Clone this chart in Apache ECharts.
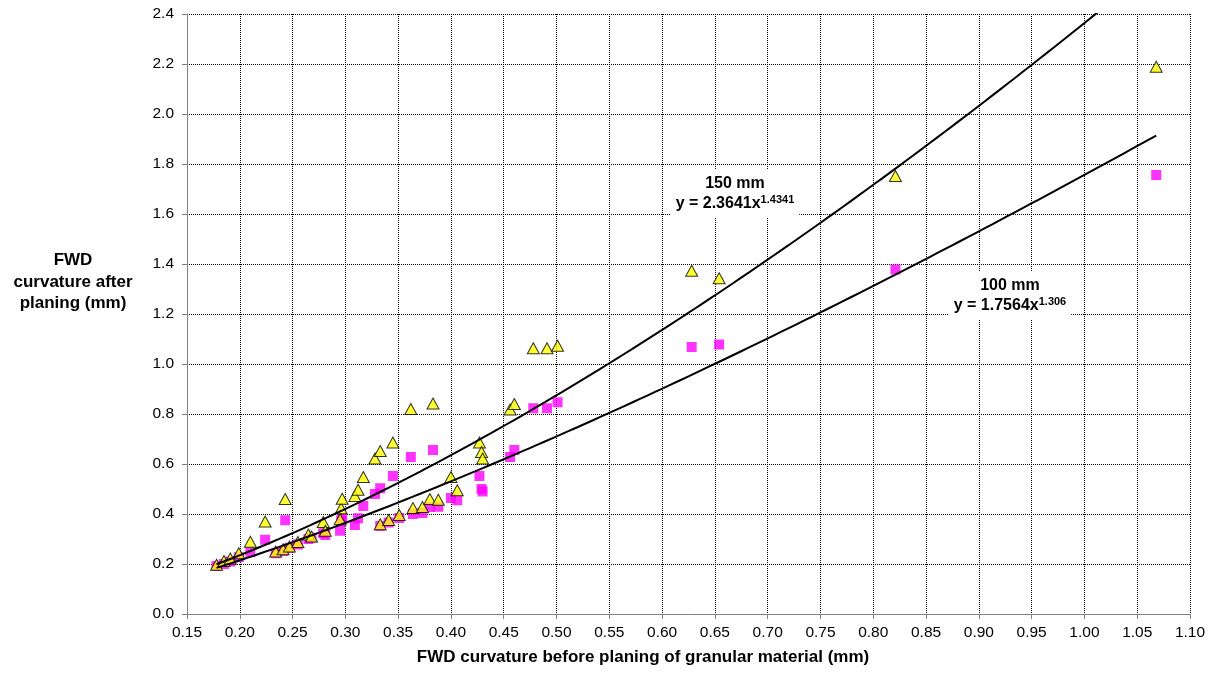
<!DOCTYPE html>
<html><head><meta charset="utf-8">
<script src="https://cdn.jsdelivr.net/npm/echarts@6/dist/echarts.min.js"></script>
<style>html,body{margin:0;padding:0;background:#fff}#c{width:1213px;height:679px}</style>
</head><body><div id="c"></div>
<script>
// FWD curvature before planing (mm)
const curvBefore = [0.178,0.185,0.191,0.199,0.210,0.224,0.234,0.241,0.243,0.247,0.255,0.265,0.268,0.279,0.281,0.295,0.296,0.297,0.309,0.312,0.317,0.328,0.333,0.333,0.341,0.345,0.351,0.362,0.364,0.373,0.380,0.383,0.388,0.400,0.406,0.427,0.429,0.430,0.456,0.460,0.478,0.491,0.501,0.628,0.654,0.821,1.068];
// FWD curvature after planing, 150 mm (triangles)
const after150 = [0.197,0.212,0.222,0.243,0.289,0.370,0.250,0.259,0.460,0.270,0.288,0.318,0.310,0.368,0.333,0.379,0.423,0.461,0.472,0.497,0.548,0.622,0.652,0.359,0.376,0.686,0.396,0.820,0.424,0.428,0.460,0.842,0.457,0.548,0.495,0.686,0.648,0.622,0.818,0.840,1.063,1.063,1.073,1.373,1.343,1.752,2.189];
// FWD curvature after planing, 100 mm (squares)
const after100 = [0.192,0.200,0.210,0.227,0.247,0.297,0.243,0.252,0.375,0.265,0.278,0.300,0.305,0.323,0.316,0.333,0.372,0.380,0.356,0.383,0.432,0.480,0.503,0.352,0.366,0.552,0.384,0.628,0.400,0.404,0.428,0.656,0.429,0.464,0.455,0.552,0.500,0.490,0.628,0.656,0.823,0.823,0.847,1.068,1.078,1.378,1.756];
// Power trendline coefficients y = a * x^b
const fit150 = {a: 2.3641, b: 1.4341};
const fit100 = {a: 1.7564, b: 1.306};
const xAxisTitle = 'FWD curvature before planing of granular material (mm)';
const yAxisTitle = 'FWD\ncurvature after\nplaning (mm)';

const F = 'Arial, "Liberation Sans", sans-serif';
const pts150 = curvBefore.map((x,i)=>[x, after150[i]]);
const pts100 = curvBefore.map((x,i)=>[x, after100[i]]);
const xMin = Math.min(...curvBefore), xMax = Math.max(...curvBefore);
function trend(f){ const out=[]; const n=120; for(let i=0;i<=n;i++){const x=xMin+(xMax-xMin)*i/n; out.push([x, f.a*Math.pow(x,f.b)]);} return out; }

const chart = echarts.init(document.getElementById('c'), null, {renderer:'canvas'});
chart.setOption({
  animation:false,
  backgroundColor:'#fff',
  grid:{left:187, right:23, top:14, bottom:65, containLabel:false},
  xAxis:{type:'value', min:0.15, max:1.10, interval:0.05,
    axisLine:{lineStyle:{color:'#808080', width:1}},
    axisTick:{show:true, inside:false, length:5, lineStyle:{color:'#808080'}},
    axisLabel:{formatter:v=>v.toFixed(2), color:'#000', fontSize:15.5, fontFamily:F, margin:11},
    splitLine:{show:true, lineStyle:{color:'#000', type:[1,1], width:1}}},
  yAxis:{type:'value', min:0, max:2.4, interval:0.2,
    axisLine:{show:true, lineStyle:{color:'#808080', width:1}},
    axisTick:{show:true, inside:false, length:5, lineStyle:{color:'#808080'}},
    axisLabel:{formatter:v=>v.toFixed(1), color:'#000', fontSize:15.5, fontFamily:F, margin:13},
    splitLine:{show:true, lineStyle:{color:'#000', type:[1,1], width:1}}},
  series:[
    {name:'100 mm', type:'scatter', data:pts100, symbol:'rect', symbolSize:10,
      itemStyle:{color:'#FF00FF'}, z:2},
    {name:'150 mm', type:'scatter', data:pts150, symbol:'triangle', symbolSize:[12,11],
      itemStyle:{color:'#FFFF00', borderColor:'#000', borderWidth:1}, z:3},
    {name:'trend 150', type:'line', data:trend(fit150), showSymbol:false, symbol:'none', smooth:false,
      lineStyle:{color:'#000', width:2}, clip:true, z:4},
    {name:'trend 100', type:'line', data:trend(fit100), showSymbol:false, symbol:'none', smooth:false,
      lineStyle:{color:'#000', width:2}, clip:true, z:4}
  ]
});

const p150 = chart.convertToPixel({gridIndex:0}, [0.669, 1.68]);
const p100 = chart.convertToPixel({gridIndex:0}, [0.9295, 1.272]);
const rich = {
  a:{fontSize:16, fontWeight:'bold', fontFamily:F, color:'#000', lineHeight:20},
  s:{fontSize:11, fontWeight:'bold', fontFamily:F, color:'#000', lineHeight:20, verticalAlign:'top'}
};
chart.setOption({graphic:[
  {type:'text', x:p150[0], y:p150[1], z:10, style:{text:'{a|150 mm}\n{a|y = 2.3641x}{s|1.4341}', rich:rich,
    align:'center', verticalAlign:'middle', backgroundColor:'#fff', padding:[4,5]}},
  {type:'text', x:p100[0], y:p100[1], z:10, style:{text:'{a|100 mm}\n{a|y = 1.7564x}{s|1.306}', rich:rich,
    align:'center', verticalAlign:'middle', backgroundColor:'#fff', padding:[4,5]}},
  {type:'text', x:73, y:282, style:{text:yAxisTitle, font:'bold 17px '+F, fill:'#000', align:'center', verticalAlign:'middle', lineHeight:21.5}},
  {type:'text', x:643, y:657, style:{text:xAxisTitle, font:'bold 17px '+F, fill:'#000', align:'center', verticalAlign:'middle'}}
]});
</script></body></html>
